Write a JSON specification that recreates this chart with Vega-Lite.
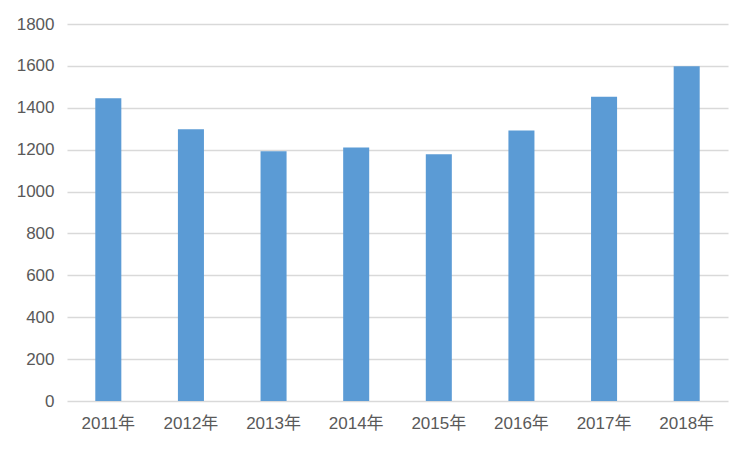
{
  "$schema": "https://vega.github.io/schema/vega-lite/v6.json",
  "width": 661,
  "height": 377,
  "autosize": {"type": "none"},
  "padding": {"left": 67, "top": 24, "right": 24, "bottom": 51},
  "background": "white",
  "data": {
    "values": [
      {"year": "2011年", "value": 1445},
      {"year": "2012年", "value": 1298},
      {"year": "2013年", "value": 1192},
      {"year": "2014年", "value": 1210},
      {"year": "2015年", "value": 1178},
      {"year": "2016年", "value": 1292},
      {"year": "2017年", "value": 1453},
      {"year": "2018年", "value": 1598}
    ]
  },
  "mark": {"type": "bar", "color": "#5b9bd5"},
  "encoding": {
    "x": {
      "field": "year",
      "type": "nominal",
      "sort": null,
      "scale": {"paddingInner": 0.685, "paddingOuter": 0.3425},
      "axis": {
        "title": null,
        "labelAngle": 0,
        "ticks": false,
        "domain": false,
        "labelPadding": 14,
        "labelFontSize": 17,
        "labelColor": "#595959",
        "labelFont": "Liberation Sans, Noto Sans CJK SC, sans-serif"
      }
    },
    "y": {
      "field": "value",
      "type": "quantitative",
      "scale": {"domain": [0, 1800], "nice": false},
      "axis": {
        "title": null,
        "values": [0, 200, 400, 600, 800, 1000, 1200, 1400, 1600, 1800],
        "format": "d",
        "ticks": false,
        "domain": false,
        "labelPadding": 13,
        "labelFontSize": 17,
        "labelColor": "#595959",
        "labelFont": "Liberation Sans, sans-serif",
        "gridColor": "#d9d9d9",
        "gridWidth": 1.5
      }
    }
  },
  "config": {"view": {"stroke": null}}
}
